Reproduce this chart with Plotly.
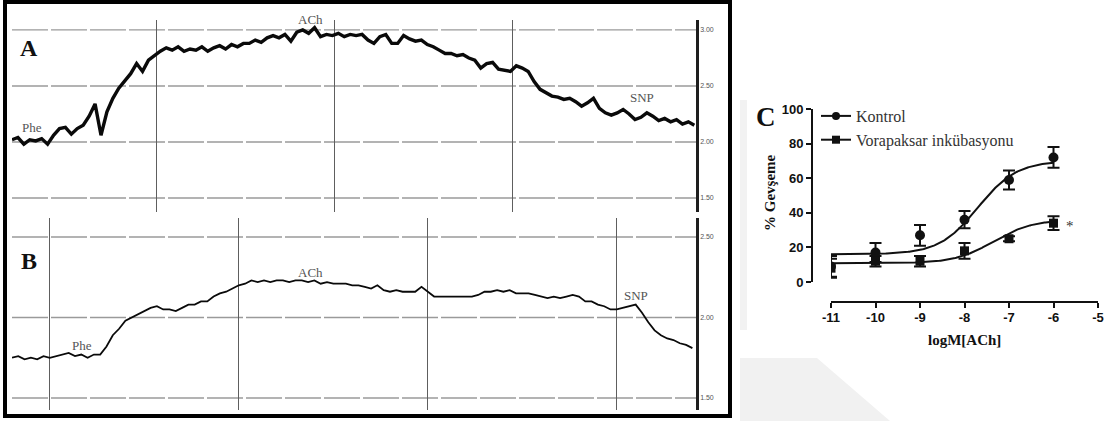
import numpy as np
import plotly.graph_objects as go

W, H = 1108, 421

# ---------------------------------------------------------------------------
# Panel A: isometric tension recording (g), one sample every 10 s
a_tension = [
    2.02, 2.04, 1.98, 2.02, 2.01, 2.03, 1.98, 2.06, 2.12, 2.13,
    2.07, 2.12, 2.15, 2.23, 2.34, 2.06, 2.27, 2.39, 2.48, 2.55,
    2.61, 2.70, 2.63, 2.73, 2.77, 2.81, 2.84, 2.82, 2.85, 2.81,
    2.83, 2.82, 2.85, 2.81, 2.84, 2.86, 2.83, 2.87, 2.85, 2.88,
    2.88, 2.91, 2.89, 2.93, 2.95, 2.93, 2.96, 2.90, 2.98, 3.00,
    2.97, 3.02, 2.94, 2.96, 2.95, 2.97, 2.94, 2.96, 2.95, 2.96,
    2.91, 2.88, 2.94, 2.96, 2.88, 2.88, 2.95, 2.92, 2.90, 2.91,
    2.87, 2.85, 2.82, 2.79, 2.79, 2.77, 2.78, 2.75, 2.73, 2.66,
    2.70, 2.71, 2.65, 2.64, 2.63, 2.68, 2.66, 2.63, 2.54, 2.47,
    2.44, 2.41, 2.40, 2.38, 2.39, 2.36, 2.32, 2.35, 2.39, 2.30,
    2.26, 2.24, 2.26, 2.29, 2.25, 2.20, 2.22, 2.26, 2.23, 2.19,
    2.21, 2.18, 2.20, 2.16, 2.18, 2.15,
]
a_dt = 10  # s

# Panel B: recording after vorapaksar incubation (g), one sample every 10 s
b_tension = [
    1.75, 1.76, 1.74, 1.75, 1.74, 1.76, 1.75, 1.76, 1.77, 1.78,
    1.76, 1.77, 1.75, 1.77, 1.77, 1.82, 1.89, 1.93, 1.98, 2.00,
    2.02, 2.04, 2.06, 2.07, 2.05, 2.05, 2.04, 2.06, 2.08, 2.08,
    2.10, 2.10, 2.13, 2.15, 2.16, 2.18, 2.20, 2.21, 2.23, 2.22,
    2.23, 2.22, 2.23, 2.23, 2.22, 2.23, 2.23, 2.22, 2.23, 2.21,
    2.22, 2.21, 2.21, 2.21, 2.20, 2.20, 2.19, 2.18, 2.20, 2.17,
    2.16, 2.17, 2.16, 2.16, 2.16, 2.19, 2.16, 2.13, 2.13, 2.13,
    2.13, 2.13, 2.13, 2.13, 2.14, 2.16, 2.16, 2.17, 2.16, 2.17,
    2.15, 2.15, 2.15, 2.14, 2.13, 2.12, 2.13, 2.12, 2.13, 2.14,
    2.13, 2.10, 2.10, 2.08, 2.07, 2.05, 2.05, 2.06, 2.07, 2.08,
    2.03, 1.97, 1.92, 1.89, 1.87, 1.86, 1.84, 1.83, 1.81,
]
b_dt = 10  # s

a_ticks = [1.5, 2.0, 2.5, 3.0]
b_ticks = [1.5, 2.0, 2.5]

# Drug additions: (label, x px, y px) on the recorder paper
a_marks = [("Phe", 32, 127), ("ACh", 310, 19), ("SNP", 642, 97)]
b_marks = [("Phe", 82, 345), ("ACh", 310, 272), ("SNP", 636, 295)]

# Panel C: concentration-response to acetylcholine
log_ach = [-11, -10, -9, -8, -7, -6]
kontrol_mean = [9, 17, 27, 36, 59, 72]
kontrol_sem = [6, 5.5, 6, 5, 5.5, 6]
vora_mean = [8, 12, 12, 18, 25, 34]
vora_sem = [5.5, 3, 3, 4.5, 1.5, 4]
c_xticks = [-11, -10, -9, -8, -7, -6, -5]
c_yticks = [0, 20, 40, 60, 80, 100]

# Sigmoidal fits (Hill slope = 1)
kontrol_fit = {"bottom": 16.0, "top": 70.0, "log_ec50": -7.7}
vora_fit = {"bottom": 10.8, "top": 36.0, "log_ec50": -7.35}


def px(x):
    return x / W


def py(y):
    return 1 - y / H


def logistic(x, p):
    return p["bottom"] + (p["top"] - p["bottom"]) / (1 + 10 ** (p["log_ec50"] - x))


a_t = np.arange(len(a_tension)) * a_dt
b_t = np.arange(len(b_tension)) * b_dt

# chart-recorder paper geometry (px per second, first grid line)
a_scale = 178 / 300
b_scale = 189 / 300
a_span = (696 - 12) / a_scale
b_span = (696 - 12) / b_scale
a_grid0 = (156 - 12) / a_scale
b_grid0 = (49 - 12) / b_scale

serif = "Liberation Serif, Times New Roman, serif"
sans = "Liberation Sans, Arial, sans-serif"
ink = "#111111"

fig = go.Figure()

fig.add_trace(go.Scatter(x=a_t, y=a_tension, mode="lines", xaxis="x", yaxis="y",
                         line=dict(color="#0a0a0a", width=3.4), showlegend=False,
                         hoverinfo="skip"))
fig.add_trace(go.Scatter(x=b_t, y=b_tension, mode="lines", xaxis="x2", yaxis="y2",
                         line=dict(color="#0a0a0a", width=1.8), showlegend=False,
                         hoverinfo="skip"))

# Panel C: fitted curves
xs = np.linspace(log_ach[0], log_ach[-1], 200)
for p in (kontrol_fit, vora_fit):
    fig.add_trace(go.Scatter(x=xs, y=logistic(xs, p), mode="lines", xaxis="x3", yaxis="y3",
                             line=dict(color=ink, width=2), showlegend=False, hoverinfo="skip"))

# Panel C: mean ± SEM
fig.add_trace(go.Scatter(x=log_ach, y=kontrol_mean, mode="markers", xaxis="x3", yaxis="y3",
                         marker=dict(symbol="circle", size=10, color=ink),
                         error_y=dict(type="data", array=kontrol_sem, color=ink, thickness=2, width=6),
                         showlegend=False))
fig.add_trace(go.Scatter(x=log_ach, y=vora_mean, mode="markers", xaxis="x3", yaxis="y3",
                         marker=dict(symbol="square", size=9, color=ink),
                         error_y=dict(type="data", array=vora_sem, color=ink, thickness=2, width=6),
                         showlegend=False))

# legend entries
fig.add_trace(go.Scatter(x=[None], y=[None], mode="lines+markers", xaxis="x3", yaxis="y3",
                         name="Kontrol", line=dict(color=ink, width=2),
                         marker=dict(symbol="circle", size=8, color=ink)))
fig.add_trace(go.Scatter(x=[None], y=[None], mode="lines+markers", xaxis="x3", yaxis="y3",
                         name="Vorapaksar inkübasyonu", line=dict(color=ink, width=2),
                         marker=dict(symbol="square", size=8, color=ink)))

vgrid = dict(showgrid=True, gridcolor="#5e5e5e", gridwidth=1)

fig.update_layout(
    width=W, height=H, margin=dict(l=0, r=0, t=0, b=0, pad=0, autoexpand=False),
    paper_bgcolor="white", plot_bgcolor="rgba(0,0,0,0)",
    xaxis=dict(domain=[px(12), px(696)], range=[0, a_span], anchor="y",
               tickvals=[a_grid0 + 300 * i for i in range(3)], showticklabels=False,
               ticks="", zeroline=False, showline=False, automargin=False, **vgrid),
    yaxis=dict(domain=[py(212), py(20)], range=[1.375, 3.089], anchor="x", side="right",
               tickvals=a_ticks, ticktext=[f"{v:.2f}" for v in a_ticks],
               tickfont=dict(family=sans, size=7, color="#555"), ticks="", showgrid=False,
               showline=True, linecolor="#1e1e1e", linewidth=2.5, zeroline=False,
               automargin=False),
    xaxis2=dict(domain=[px(12), px(696)], range=[0, b_span], anchor="y2",
                tickvals=[b_grid0 + 300 * i for i in range(4)], showticklabels=False,
                ticks="", zeroline=False, showline=False, automargin=False, **vgrid),
    yaxis2=dict(domain=[py(410), py(218)], range=[1.4255, 2.618], anchor="x2", side="right",
                tickvals=b_ticks, ticktext=[f"{v:.2f}" for v in b_ticks],
                tickfont=dict(family=sans, size=7, color="#555"), ticks="", showgrid=False,
                showline=True, linecolor="#1e1e1e", linewidth=2.5, zeroline=False,
                automargin=False),
    xaxis3=dict(domain=[px(831), px(1098)], range=[-11, -5], anchor="free", position=py(302),
                tickvals=c_xticks, ticktext=[f"<b>{v}</b>" for v in c_xticks],
                tickfont=dict(family=sans, size=13, color=ink), ticklabelstandoff=-2,
                ticks="outside", ticklen=5, tickwidth=2, tickcolor=ink,
                showline=True, linecolor=ink, linewidth=2, showgrid=False, zeroline=False,
                automargin=False),
    yaxis3=dict(domain=[py(282), py(109)], range=[0, 100], anchor="free", position=px(812),
                tickvals=c_yticks, ticktext=[f"<b>{v}</b>" for v in c_yticks],
                tickfont=dict(family=sans, size=13, color=ink),
                ticks="outside", ticklen=5, tickwidth=2, tickcolor=ink,
                showline=True, linecolor=ink, linewidth=2, showgrid=False, zeroline=False,
                automargin=False),
    legend=dict(x=px(816), y=py(99), xanchor="left", yanchor="top",
                font=dict(family=serif, size=16, color="#333"), itemwidth=30,
                bgcolor="rgba(0,0,0,0)", tracegroupgap=0),
)


def label(x, y, text, size, color, **kw):
    return dict(x=px(x), y=py(y), xref="paper", yref="paper", text=text, showarrow=False,
                xanchor="center", yanchor="middle",
                font=dict(family=serif, size=size, color=color), **kw)


annotations = [label(x, y, t, 13, "#555") for t, x, y in a_marks + b_marks]
annotations += [
    label(29, 48, "<b>A</b>", 24, ink),
    label(29, 261, "<b>B</b>", 24, ink),
    label(766, 117, "<b>C</b>", 27, ink),
    label(770, 193, "<b>% Gevşeme</b>", 15, ink, textangle=-90),
    label(964, 340, "<b>logM[ACh]</b>", 15, ink),
    label(1070, 226, "*", 15, "#333"),
]
fig.update_layout(annotations=annotations)


def poly(points):
    return "M " + " L ".join(f"{px(x):.5f},{py(y):.5f}" for x, y in points) + " Z"


shapes = [
    # faint background logo
    dict(type="path", xref="paper", yref="paper", layer="below",
         path=poly([(740, 358), (817, 358), (890, 421), (740, 421)]),
         fillcolor="#f1f1f1", line=dict(width=0)),
    dict(type="path", xref="paper", yref="paper", layer="below",
         path=poly([(740, 100), (747, 100), (747, 330), (740, 330)]),
         fillcolor="#f2f2f2", line=dict(width=0)),
]
# horizontal rulings of the recorder paper
for v in a_ticks:
    shapes.append(dict(type="line", xref="x domain", yref="y", x0=0, x1=1, y0=v, y1=v,
                       layer="below", line=dict(color="#9a9a9a", width=1.3, dash="36px,3px")))
for v in b_ticks:
    shapes.append(dict(type="line", xref="x2 domain", yref="y2", x0=0, x1=1, y0=v, y1=v,
                       layer="below", line=dict(color="#9a9a9a", width=1.3, dash="36px,3px")))
# frame around the recordings
shapes.append(dict(type="rect", xref="paper", yref="paper", x0=px(5), x1=px(730),
                   y0=py(416), y1=py(2), line=dict(color="black", width=4), layer="above"))
fig.update_layout(shapes=shapes)

fig.write_html("out.html")
